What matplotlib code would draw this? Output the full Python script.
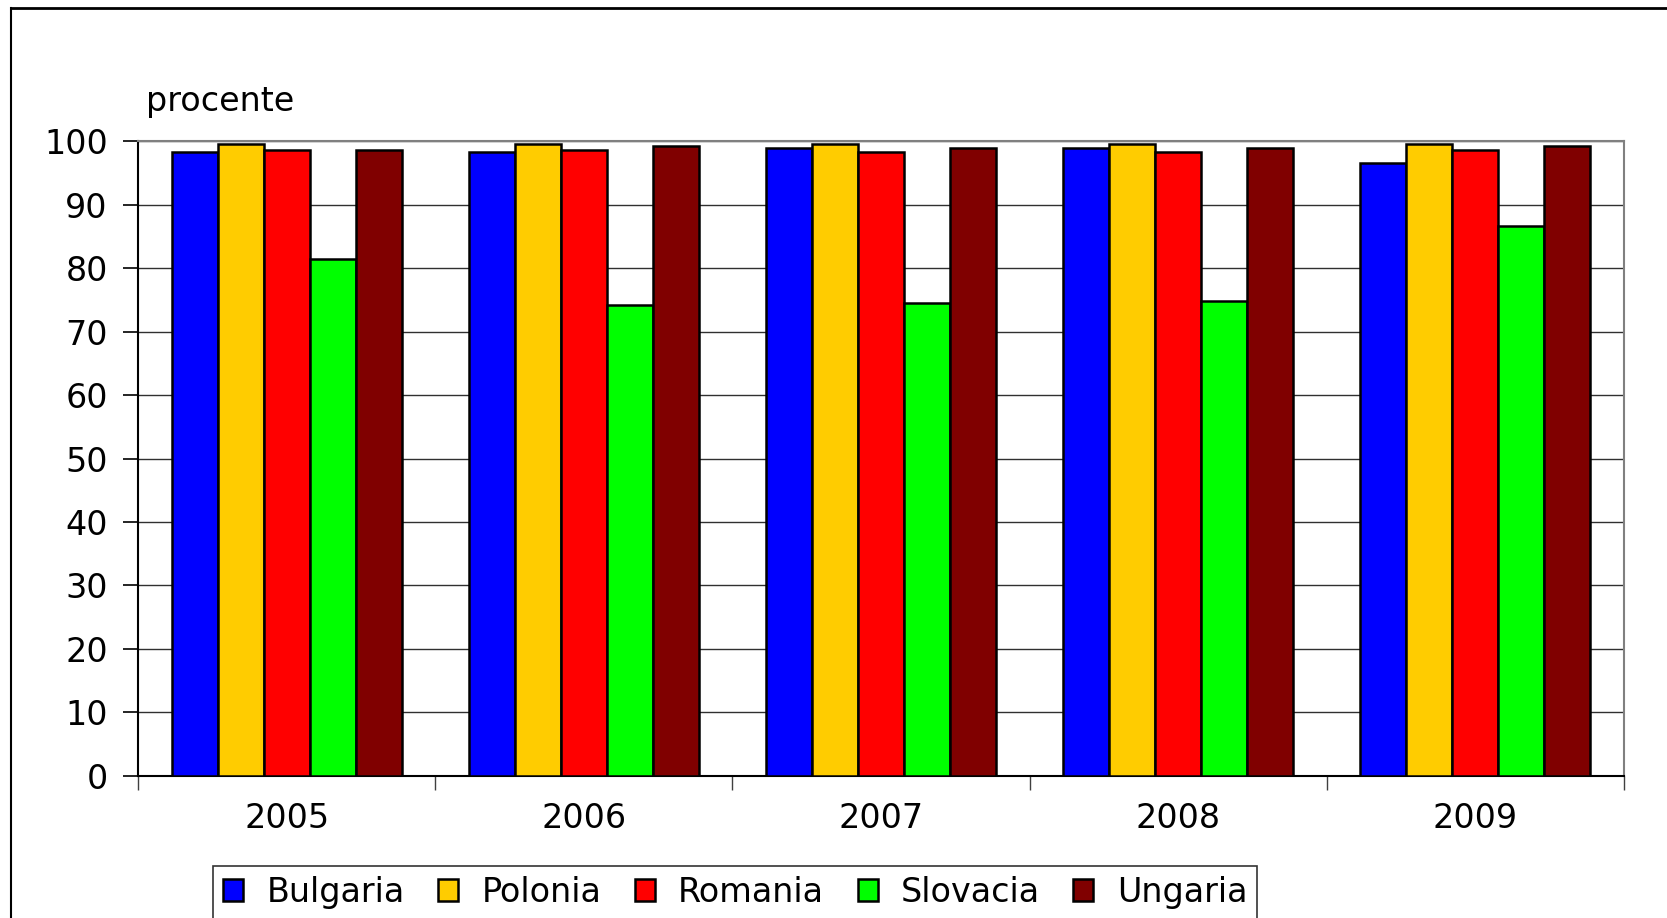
import numpy as np
import matplotlib.pyplot as plt
from matplotlib.lines import Line2D

plt.rcParams['font.family'] = ['DejaVu Sans']

years = ['2005', '2006', '2007', '2008', '2009']
countries = ['Bulgaria', 'Polonia', 'Romania', 'Slovacia', 'Ungaria']
colors = ['#0000FF', '#FFCC00', '#FF0000', '#00FF00', '#800000']

bulgaria = [98.3, 98.3, 99.0, 99.0, 96.6]
polonia = [99.6, 99.6, 99.6, 99.6, 99.6]
romania = [98.6, 98.6, 98.3, 98.3, 98.6]
slovacia = [81.4, 74.2, 74.5, 74.9, 86.6]
ungaria = [98.6, 99.2, 99.0, 99.0, 99.3]
series = [bulgaria, polonia, romania, slovacia, ungaria]

fig = plt.figure(figsize=(16.67, 9.18), dpi=100)
ax = fig.add_axes([0.083, 0.155, 0.891, 0.691])

x = np.arange(len(years))
w = 0.155
for i, (name, vals, c) in enumerate(zip(countries, series, colors)):
    ax.bar(x + (i - 2) * w, vals, w, color=c, edgecolor='black',
           linewidth=1.8, label=name, zorder=3)

ax.set_xlim(-0.5, len(years) - 0.5)
ax.set_ylim(0, 100)
ax.set_yticks(np.arange(0, 101, 10))
ax.yaxis.grid(True, color='#303030', linewidth=1.0, zorder=0)

# year labels centred, ticks between groups
ax.set_xticks(np.arange(-0.5, len(years), 1))
ax.set_xticklabels([])
ax.set_xticks(x, minor=True)
ax.set_xticklabels(years, minor=True)
ax.tick_params(axis='x', which='major', length=10, width=1, color='#404040')
ax.tick_params(axis='x', which='minor', length=0, pad=19, labelsize=24)
ax.tick_params(axis='y', length=11, width=1.2, labelsize=24, pad=11)

for s in ['top', 'right']:
    ax.spines[s].set_color('#808080')
    ax.spines[s].set_linewidth(1.5)
for s in ['left', 'bottom']:
    ax.spines[s].set_color('black')
    ax.spines[s].set_linewidth(1.5)

fig.text(0.0875, 0.889, 'procente', fontsize=24, va='center', ha='left')

leg = fig.legend(loc='upper left', bbox_to_anchor=(0.128, 0.057), ncol=5,
                 fontsize=24, frameon=True, fancybox=False, edgecolor='black',
                 handlelength=0.6, handleheight=0.6, handletextpad=0.7,
                 columnspacing=1.0, borderpad=0.3, borderaxespad=0)
leg.get_frame().set_linewidth(1.2)

# outer frame of the chart area
fig.add_artist(Line2D([0.0066, 0.0066], [0.0, 0.991], color='black', linewidth=1.5))
fig.add_artist(Line2D([0.0066, 1.0], [0.991, 0.991], color='black', linewidth=2))

fig.savefig('out.png', dpi=100)
